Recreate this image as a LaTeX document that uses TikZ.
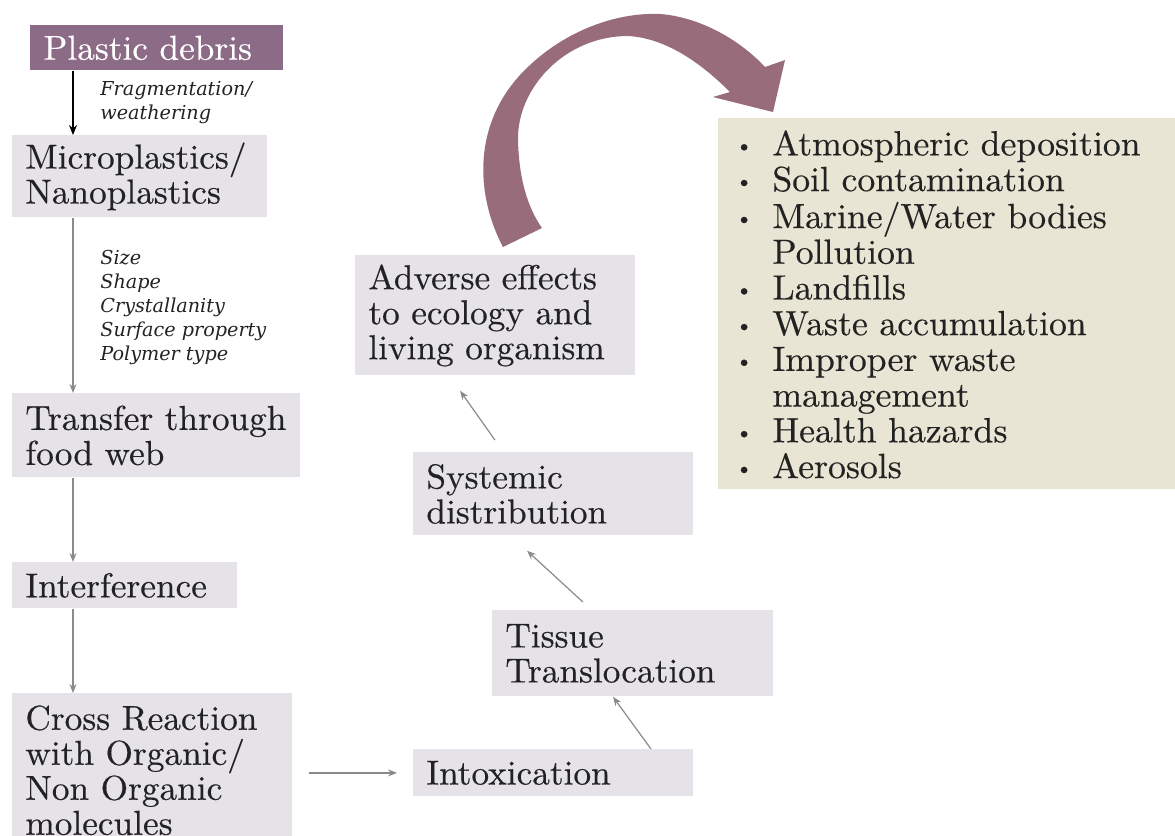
\documentclass[tikz,border=0pt]{standalone}
\usepackage{fontspec}
\newfontfamily\notefont{DejaVu Serif}
\newfontfamily\boxfont{lmroman10-regular.otf}[FakeStretch=1.02,FakeBold=0.4]
\usetikzlibrary{arrows.meta}
\definecolor{debrispurple}{HTML}{8C6B86}
\definecolor{stepgray}{HTML}{E6E3E8}
\definecolor{listbeige}{HTML}{E9E5D4}
\definecolor{cyclemauve}{HTML}{996C7C}
\definecolor{arrowgray}{HTML}{8A8A8A}
\definecolor{inkdark}{HTML}{222222}
\newcommand\listdot{\raisebox{1.5pt}{\fontsize{11}{11}\selectfont\textbullet}}
\hyphenpenalty=10000
\begin{document}
\begin{tikzpicture}[x=0.5pt,y=-0.5pt,
  stepbox/.style={fill=stepgray,anchor=north west,inner xsep=6.5pt,inner ysep=0pt,align=left,text=inkdark,font=\boxfont\fontsize{17.3}{17.5}\selectfont},
  note/.style={anchor=north west,inner sep=0pt,align=left,text=inkdark,font=\notefont\itshape\fontsize{9.6}{12}\selectfont},
  flow/.style={draw=arrowgray,line width=0.6pt,-{Stealth[length=4.5pt,width=3.5pt]}},
  flowdark/.style={flow,draw=black,-{Stealth[length=5pt,width=4pt]}}]
\useasboundingbox (0,0) rectangle (1175,836);

\fill[cyclemauve] (503,247) .. controls (478,200) and (470,130) .. (520,75) .. controls (560,32) and (615,12) .. (660,14) .. controls (700,17) and (740,40) .. (765,67) -- (785,60) -- (773,112) -- (713,97) -- (730,92) .. controls (700,62) and (665,38) .. (628,36) .. controls (565,36) and (517,88) .. (518,140) .. controls (519,180) and (528,208) .. (542,228) -- cycle;

\node[stepbox,fill=debrispurple,text=white,text width=113.5pt,minimum height=22.5pt] (debris) at (30,25) {Plastic~debris};
\node[stepbox,text width=114.5pt,minimum height=41pt] (micro) at (12,135) {Microplastics/\\Nanoplastics};
\node[stepbox,text width=131pt,minimum height=42pt] (transfer) at (12,393) {Transfer~through\\food~web};
\node[stepbox,text width=99.5pt,minimum height=23pt] (interf) at (12,562) {Interference};
\node[stepbox,text width=127pt,inner ysep=6pt] (cross) at (12,693) {Cross~Reaction\\with~Organic/\\Non~Organic\\molecules};
\node[stepbox,text width=127pt,minimum height=23.5pt] (intox) at (413,749) {Intoxication};
\node[stepbox,text width=127.5pt,minimum height=43pt] (tissue) at (492,610) {Tissue\\Translocation};
\node[stepbox,text width=127pt,minimum height=41.5pt] (systemic) at (413,452) {Systemic\\distribution};
\node[stepbox,text width=127pt,minimum height=60pt] (adverse) at (355,255) {Adverse~effects\\to~ecology~and\\living~organism};

\node[note] (fragnote) at (100,81) {Fragmentation/\\weathering};
\node[note] (propnote) at (100,250) {Size\\Shape\\Crystallanity\\Surface property\\Polymer type};

\node[anchor=north west,fill=listbeige,inner xsep=8.5pt,inner ysep=0pt,text width=211.5pt,minimum height=182pt,align=left,text=inkdark,font=\boxfont\fontsize{17.5}{17.85}\selectfont] (sources) at (718,118) {\begin{tabular}{@{}p{18.5pt}@{}l@{}}
\listdot\rule{0pt}{18.5pt} & Atmospheric deposition\\
\listdot & Soil contamination\\
\listdot & Marine/Water bodies\\
 & Pollution\\
\listdot & Landfills\\
\listdot & Waste accumulation\\
\listdot & Improper waste\\
 & management\\
\listdot & Health hazards\\
\listdot & Aerosols
\end{tabular}};

\draw[flowdark] ([xshift=21.5pt]debris.south west) -- ([xshift=30.5pt]micro.north west);
\draw[flow] ([xshift=30.5pt]micro.south west) -- ([xshift=30.5pt]transfer.north west);
\draw[flow] ([xshift=30.5pt]transfer.south west) -- ([xshift=30.5pt]interf.north west);
\draw[flow] ([xshift=30.5pt]interf.south west) -- ([xshift=30.5pt]cross.north west);
\draw[flow,shorten <=8pt,shorten >=8pt] (cross.east |- intox.west) -- (intox.west);
\draw[flow] ([xshift=119pt]intox.north west) -- ([xshift=60.5pt]tissue.south west);
\draw[flow,shorten <=5.9pt,shorten >=11pt] ([xshift=49.8pt]tissue.north west) -- ([xshift=48.9pt]systemic.south west);
\draw[flow,shorten <=7.3pt,shorten >=9.2pt] ([xshift=45.2pt]systemic.north west) -- ([xshift=47.25pt]adverse.south west);
\end{tikzpicture}
\end{document}
